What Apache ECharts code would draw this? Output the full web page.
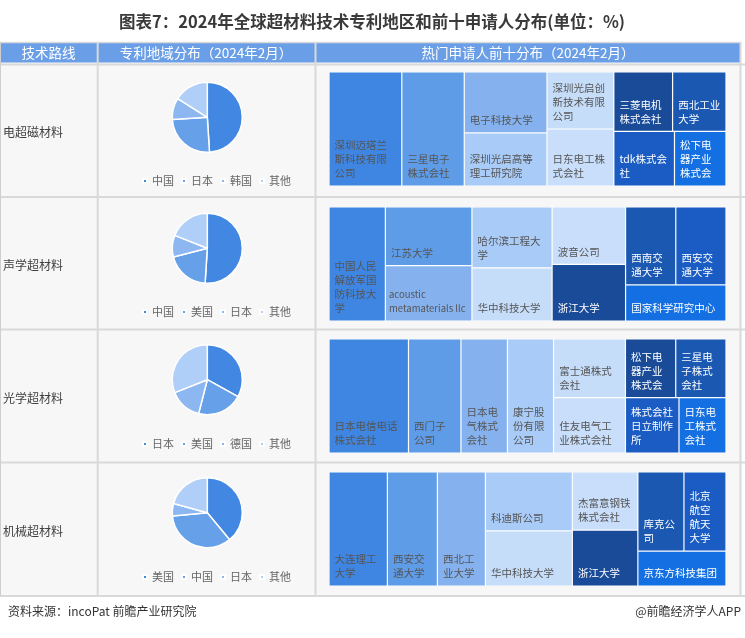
<!DOCTYPE html>
<html>
<head>
<meta charset="utf-8">
<script src="https://cdn.jsdelivr.net/npm/echarts/dist/echarts.min.js"></script>
<style>html,body{margin:0;padding:0;background:#fff;}#c{width:745px;height:638px;}</style>
</head>
<body>
<div id="c"></div>
<script>
// ---------------- DATA ----------------
const titleText = '图表7：2024年全球超材料技术专利地区和前十申请人分布(单位：%)';
const headerTexts = ['技术路线', '专利地域分布（2024年2月）', '热门申请人前十分布（2024年2月）'];
const techRoutes = ['电超磁材料', '声学超材料', '光学超材料', '机械超材料'];

const pieNames1 = ['中国', '日本', '韩国', '其他'];
const pieValues1 = [49, 25, 10, 16];
const pieNames2 = ['中国', '美国', '日本', '其他'];
const pieValues2 = [51, 20, 10, 19];
const pieNames3 = ['日本', '美国', '德国', '其他'];
const pieValues3 = [33, 21, 15, 31];
const pieNames4 = ['美国', '中国', '日本', '其他'];
const pieValues4 = [39, 34.5, 5.7, 20.8];

const tmNames1 = ['深圳迈塔兰斯科技有限公司', '三星电子株式会社', '电子科技大学', '深圳光启高等理工研究院', '深圳光启创新技术有限公司', '日东电工株式会社', '三菱电机株式会社', '西北工业大学', 'tdk株式会社', '松下电器产业株式会社'];
const tmValues1 = [18.3, 15.7, 11.1, 9.7, 8.4, 8.4, 7.7, 7.0, 7.3, 6.2];
const tmGroups1 = [0, 1, [2, 3], [4, 5], [[6, 7], [8, 9]]];

const tmNames2 = ['中国人民解放军国防科技大学', '江苏大学', 'acoustic metamaterials llc', '哈尔滨工程大学', '华中科技大学', '波音公司', '浙江大学', '西南交通大学', '西安交通大学', '国家科学研究中心'];
const tmValues2 = [14.2, 11.2, 10.6, 10.8, 9.4, 9.3, 9.2, 8.65, 8.65, 8.0];
const tmGroups2 = [0, [1, 2], [3, 4], [5, 6], [[7, 8], 9]];

const tmNames3 = ['日本电信电话株式会社', '西门子公司', '日本电气株式会社', '康宁股份有限公司', '富士通株式会社', '住友电气工业株式会社', '松下电器产业株式会社', '三星电子株式会社', '株式会社日立制作所', '日东电工株式会社'];
const tmValues3 = [20.0, 13.2, 11.7, 11.6, 9.3, 8.8, 6.5, 6.5, 6.55, 5.75];
const tmGroups3 = [0, 1, 2, 3, [4, 5], [[6, 7], [8, 9]]];

const tmNames4 = ['大连理工大学', '西安交通大学', '西北工业大学', '科迪斯公司', '华中科技大学', '杰富意钢铁株式会社', '浙江大学', '库克公司', '北京航空航天大学', '京东方科技集团股份有限公司'];
const tmValues4 = [14.7, 12.6, 12.1, 11.3, 10.6, 8.4, 8.1, 8.05, 7.35, 6.8];
const tmGroups4 = [0, 1, 2, [3, 4], [5, 6], [[7, 8], 9]];

const sourceText = '资料来源：incoPat 前瞻产业研究院';
const brandText = '@前瞻经济学人APP';

// ---------------- STYLE ----------------
const FONT = '"Noto Sans CJK SC", "Microsoft YaHei", sans-serif';
const pieColors = ['#4287e2', '#65a0e9', '#8cb7f0', '#b0cff8'];
const tmColors = ['#3f86e2', '#5e9ce8', '#85b2ef', '#a9cbf7', '#c6ddfa', '#c8defa', '#194b98', '#1b58b2', '#1a5cc3', '#1470e2'];
const tmTextColors = ['#555', '#555', '#555', '#555', '#555', '#555', '#fff', '#fff', '#fff', '#fff'];

const rowBounds = [64.5, 197, 329.5, 462.5, 596];
const pieCentersY = [117.3, 248.3, 379.7, 512.7];
const legendTops = [170.5, 301.5, 433.5, 566.5];
const rowLabelY = [132, 265, 398.5, 531.5];
const tmTops = [72, 207, 339, 472];

const pies = [[pieNames1, pieValues1], [pieNames2, pieValues2], [pieNames3, pieValues3], [pieNames4, pieValues4]];
const tms = [[tmNames1, tmValues1, tmGroups1], [tmNames2, tmValues2, tmGroups2], [tmNames3, tmValues3, tmGroups3], [tmNames4, tmValues4, tmGroups4]];

function isLatin(s) { return /^[\x00-\x7f]+$/.test(s); }

function buildTree(spec, names, values) {
  return spec.map(function (s) {
    if (typeof s === 'number') {
      const lab = { color: tmTextColors[s] };
      if (isLatin(names[s])) { lab.fontSize = 9.5; lab.padding = [5, 1, 5, 3]; lab.overflow = 'none'; }
      return {
        name: names[s],
        value: values[s],
        itemStyle: { color: tmColors[s], borderWidth: 0.6, borderColor: '#fff' },
        label: lab
      };
    }
    return { name: '', children: buildTree(s, names, values), itemStyle: { borderWidth: 0, gapWidth: 0 } };
  });
}

const chart = echarts.init(document.getElementById('c'), null, { renderer: 'canvas', width: 745, height: 638 });

const graphics = [];
graphics.push({ type: 'rect', shape: { x: 0, y: 43, width: 741, height: 553 }, style: { fill: '#f7f7f7' }, silent: true });
graphics.push({ type: 'rect', shape: { x: 0, y: 43, width: 741, height: 19.5 }, style: { fill: '#6a9fe7' }, silent: true });
graphics.push({ type: 'line', shape: { x1: 0, y1: 42.5, x2: 741, y2: 42.5 }, style: { stroke: '#d9d9d9', lineWidth: 1.5 }, silent: true });
rowBounds.forEach(function (y) {
  graphics.push({ type: 'line', shape: { x1: 0, y1: y, x2: 745, y2: y }, style: { stroke: '#d9d9d9', lineWidth: 2 }, silent: true });
});
[0.5, 97.7, 315.5, 740.5].forEach(function (x, i) {
  graphics.push({ type: 'line', shape: { x1: x, y1: 42, x2: x, y2: 596 }, style: { stroke: i === 0 ? '#cfcfcf' : '#d9d9d9', lineWidth: i === 0 ? 1 : 2 }, silent: true });
});
graphics.push({ type: 'text', style: { text: titleText, x: 372, y: 22, align: 'center', verticalAlign: 'middle', fontSize: 16.5, fontWeight: 'bold', fontFamily: FONT, fill: '#3a3a3a' }, silent: true });
[48.5, 206, 528].forEach(function (x, i) {
  graphics.push({ type: 'text', style: { text: headerTexts[i], x: x, y: 53, align: 'center', verticalAlign: 'middle', fontSize: 13.5, fontFamily: FONT, fill: '#ffffff' }, silent: true });
});
techRoutes.forEach(function (t, i) {
  graphics.push({ type: 'text', style: { text: t, x: 3, y: rowLabelY[i], align: 'left', verticalAlign: 'middle', fontSize: 12, fontFamily: FONT, fill: '#404040' }, silent: true });
});
graphics.push({ type: 'text', style: { text: sourceText, x: 8, y: 611, align: 'left', verticalAlign: 'middle', fontSize: 12, fontFamily: FONT, fill: '#333' }, silent: true });
graphics.push({ type: 'text', style: { text: brandText, x: 741, y: 611, align: 'right', verticalAlign: 'middle', fontSize: 12, fontFamily: FONT, fill: '#333' }, silent: true });

const series = [];
const legends = [];
pies.forEach(function (p, r) {
  const names = p[0], vals = p[1];
  series.push({
    type: 'pie',
    center: [207.3, pieCentersY[r]],
    radius: [0, 35],
    startAngle: 90,
    clockwise: true,
    silent: true,
    label: { show: false },
    labelLine: { show: false },
    itemStyle: { borderColor: '#fff', borderWidth: 1.5 },
    data: names.map(function (n, i) { return { name: n, value: vals[i], itemStyle: { color: pieColors[i] } }; })
  });
  legends.push({
    left: 137,
    top: legendTops[r],
    orient: 'horizontal',
    icon: 'rect',
    itemWidth: 4,
    itemHeight: 4,
    itemGap: 7,
    selectedMode: false,
    textStyle: { fontSize: 11, color: '#666', fontFamily: FONT },
    data: names.map(function (n, i) { return { name: n, itemStyle: { color: pieColors[i] } }; })
  });
});

tms.forEach(function (t, r) {
  series.push({
    type: 'treemap',
    left: 329,
    top: tmTops[r],
    width: 397,
    height: 114,
    roam: false,
    nodeClick: false,
    silent: true,
    sort: false,
    squareRatio: 0.0001,
    visibleMin: 0,
    breadcrumb: { show: false },
    itemStyle: { borderWidth: 0, gapWidth: 0, borderColor: '#fff' },
    upperLabel: { show: false },
    label: {
      show: true,
      position: 'insideBottomLeft',
      distance: 0,
      padding: [5, 5, 5, 5],
      fontSize: 10.5,
      lineHeight: 14,
      overflow: 'break',
      fontFamily: FONT,
      color: '#555',
      formatter: function (p) { return isLatin(p.name) ? p.name.replace(' ', '\n') : p.name; }
    },
    data: buildTree(t[2], t[0], t[1])
  });
});

chart.setOption({
  animation: false,
  backgroundColor: '#ffffff',
  graphic: graphics,
  legend: legends,
  series: series
});
</script>
</body>
</html>
